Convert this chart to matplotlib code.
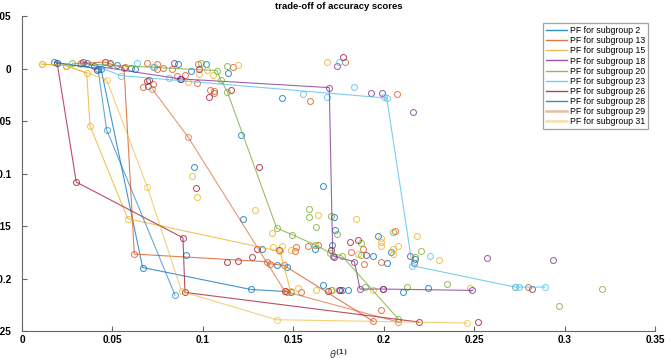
import matplotlib
matplotlib.use("Agg")
import matplotlib.pyplot as plt
from matplotlib.lines import Line2D

plt.rcParams['font.family'] = ['Liberation Sans', 'DejaVu Sans']

# ---- Pareto fronts (theta1, accuracy) ----
subgroups = [2, 13, 15, 18, 20, 23, 26, 28, 29, 31]
colors = ['#0072BD', '#D95319', '#EDB120', '#7E2F8E', '#77AC30',
          '#4DBEEE', '#A2142F', '#0072BD', '#D95319', '#EDB120']

pf_x_2 = [0.0179, 0.0437, 0.0667, 0.1265, 0.1485]
pf_y_2 = [0.0061, -0.0006, -0.1893, -0.2102, -0.2124]
pf_x_13 = [0.0326, 0.0459, 0.0564, 0.0621, 0.1353, 0.1371, 0.1449, 0.1943]
pf_y_13 = [0.0051, 0.0061, 0.0004, -0.1765, -0.1838, -0.1857, -0.1873, -0.2406]
pf_x_15 = [0.0109, 0.0242, 0.0358, 0.0376, 0.0585, 0.1427, 0.1485]
pf_y_15 = [0.0042, 0.0029, -0.0044, -0.0545, -0.1429, -0.1740, -0.2119]
pf_x_18 = [0.0339, 0.0398, 0.0874, 0.1699, 0.1718, 0.1838, 0.1869, 0.1995, 0.2490]
pf_y_18 = [0.0061, 0.0026, -0.0098, -0.0181, -0.1781, -0.1838, -0.2098, -0.2098, -0.2111]
pf_x_20 = [0.0278, 0.1077, 0.1099, 0.1135, 0.1408, 0.1495, 0.1620, 0.1703, 0.1768, 0.2081]
pf_y_20 = [0.0051, -0.0019, -0.0107, -0.0219, -0.1518, -0.1582, -0.1677, -0.1753, -0.1781, -0.2383]
pf_x_23 = [0.0431, 0.0546, 0.2017, 0.2158, 0.2726, 0.2750, 0.2892]
pf_y_23 = [0.0011, -0.0067, -0.0281, -0.1876, -0.2079, -0.2079, -0.2079]
pf_x_26 = [0.0194, 0.0300, 0.0890, 0.0901, 0.2195]
pf_y_26 = [0.0054, -0.1080, -0.1610, -0.2130, -0.2412]
pf_x_28 = [0.0192, 0.0420, 0.0468, 0.0846]
pf_y_28 = [0.0051, 0.0000, -0.0583, -0.2155]
pf_x_29 = [0.0721, 0.0920, 0.1454, 0.2081]
pf_y_29 = [-0.0196, -0.0656, -0.2121, -0.2412]
pf_x_31 = [0.0109, 0.0242, 0.0468, 0.0693, 0.0883, 0.1408, 0.2459]
pf_y_31 = [0.0042, 0.0029, -0.0107, -0.1128, -0.2121, -0.2390, -0.2421]

pf_x = [pf_x_2, pf_x_13, pf_x_15, pf_x_18, pf_x_20, pf_x_23, pf_x_26, pf_x_28, pf_x_29, pf_x_31]
pf_y = [pf_y_2, pf_y_13, pf_y_15, pf_y_18, pf_y_20, pf_y_23, pf_y_26, pf_y_28, pf_y_29, pf_y_31]

# ---- all candidate solutions (scatter) ----
sc_x_2 = [0.0358, 0.0527, 0.0601, 0.0625, 0.0695, 0.0864, 0.0933, 0.1018, 0.1138, 0.1209,
          0.0951, 0.1439, 0.1224, 0.1663, 0.1727, 0.1731, 0.0905, 0.1329, 0.1408, 0.1467,
          0.1620, 0.1713, 0.1666, 0.1967, 0.1943, 0.2020, 0.2039, 0.2173, 0.1771, 0.1804,
          0.2109, 0.2244]
sc_y_2 = [0.0051, 0.0035, 0.0004, -0.0006, -0.0162, 0.0042, -0.0019, 0.0042, -0.0044, -0.0631,
          -0.0932, -0.0281, -0.1432, -0.1122, -0.1417, -0.1534, -0.1772, -0.1718, -0.1873, -0.1886,
          -0.1718, -0.1677, -0.2057, -0.1598, -0.1781, -0.1851, -0.1746, -0.1813, -0.2105, -0.2111,
          -0.2126, -0.2088]
sc_x_13 = [0.0459, 0.0570, 0.0690, 0.0745, 0.0745, 0.0778, 0.0830, 0.0855, 0.0901, 0.0966,
           0.0975, 0.0667, 0.0726, 0.1040, 0.1063, 0.1063, 0.1165, 0.1593, 0.1786, 0.2072,
           0.1818, 0.1887, 0.2064, 0.1984, 0.1893, 0.1514, 0.1510, 0.1583, 0.1635, 0.1464,
           0.1541, 0.1984, 0.2800]
sc_y_13 = [0.0061, 0.0010, 0.0051, 0.0042, -0.0006, 0.0004, -0.0003, -0.0069, -0.0060, -0.0139,
           0.0042, -0.0171, -0.0146, -0.0203, -0.0209, -0.0234, 0.0019, -0.0304, 0.0061, -0.0241,
           -0.1750, -0.1718, -0.1550, -0.1845, -0.1860, -0.1702, -0.1734, -0.1686, -0.1683, -0.2130,
           -0.2126, -0.2301, -0.2079]
sc_x_15 = [0.0242, 0.0321, 0.0920, 0.0980, 0.1025, 0.1058, 0.1196, 0.1685, 0.0942, 0.0969,
           0.1288, 0.1381, 0.1639, 0.1390, 0.1436, 0.1488, 0.1528, 0.1626, 0.1713, 0.1845,
           0.1984, 0.1984, 0.1984, 0.2050, 0.2078, 0.2053, 0.1860, 0.2186, 0.2306, 0.1943,
           0.2477, 0.2726]
sc_y_15 = [0.0029, 0.0042, -0.0124, -0.0050, -0.0012, -0.0060, 0.0035, 0.0061, -0.1018, -0.1223,
           -0.1350, -0.1560, -0.1391, -0.1699, -0.1686, -0.1731, -0.2088, -0.2111, -0.2111, -0.1432,
           -0.1613, -0.1655, -0.1693, -0.1718, -0.1686, -0.1765, -0.1765, -0.1591, -0.1822, -0.2105,
           -0.2088, -0.2079]
sc_x_18 = [0.0487, 0.0841, 0.1744, 0.1930, 0.1991, 0.2164, 0.1725, 0.1753, 0.1902, 0.2146,
           0.2168, 0.2573, 0.2938, 0.2819]
sc_y_18 = [0.0051, 0.0051, 0.0026, -0.0234, -0.0228, -0.0412, -0.1794, -0.2111, -0.1778, -0.1788,
           -0.1851, -0.1803, -0.1819, -0.2098]
sc_x_20 = [0.0487, 0.0730, 0.0988, 0.1132, 0.1589, 0.1589, 0.1626, 0.1709, 0.1744, 0.1709,
           0.1873, 0.2053, 0.1873, 0.2205, 0.2173, 0.1897, 0.2127, 0.2352, 0.2968, 0.3206]
sc_y_20 = [0.0045, 0.0019, 0.0057, 0.0029, -0.1337, -0.1415, -0.1508, -0.1407, -0.1572, -0.2111,
           -0.1660, -0.1556, -0.1772, -0.1734, -0.1794, -0.2083, -0.2083, -0.2050, -0.2263, -0.2098]
sc_x_23 = [0.0634, 0.0726, 0.0813, 0.1556, 0.1688, 0.1753, 0.1838, 0.2004, 0.2256]
sc_y_23 = [0.0051, 0.0019, -0.0091, -0.0243, -0.0272, 0.0067, -0.0171, -0.0266, -0.1781]
sc_x_26 = [0.0413, 0.0690, 0.0702, 0.0879, 0.0979, 0.1034, 0.1156, 0.1311, 0.0962, 0.1132,
           0.1193, 0.1274, 0.1298, 0.1423, 0.1454, 0.1707, 0.1694, 0.1759, 0.1814, 0.1860,
           0.1777, 0.1995, 0.2520]
sc_y_26 = [-0.0012, -0.0114, -0.0107, -0.0098, -0.0003, -0.0266, -0.0205, -0.0935, -0.1137, -0.1845,
           -0.1835, -0.1797, -0.1715, -0.1724, -0.2114, -0.1724, -0.2121, -0.2111, -0.1655, -0.1636,
           0.0108, -0.2098, -0.2412]

sc_x = [sc_x_2, sc_x_13, sc_x_15, sc_x_18, sc_x_20, sc_x_23, sc_x_26]
sc_y = [sc_y_2, sc_y_13, sc_y_15, sc_y_18, sc_y_20, sc_y_23, sc_y_26]

xticks = [0, 0.05, 0.1, 0.15, 0.2, 0.25, 0.3, 0.35]
xticklabels = ['0', '0.05', '0.1', '0.15', '0.2', '0.25', '0.3', '0.35']
yticks = [0.05, 0, -0.05, -0.1, -0.15, -0.2, -0.25]
yticklabels = ['0.05', '0', '-0.05', '-0.1', '-0.15', '-0.2', '-0.25']

W, H = 671, 358
fig = plt.figure(figsize=(W / 100, H / 100), dpi=100)
ax = fig.add_axes([22 / W, (H - 331.3) / H, 633 / W, (331.3 - 16) / H])

for i in range(len(sc_x)):
    ax.plot(sc_x[i], sc_y[i], linestyle='none', marker='o', markersize=4.3,
            markerfacecolor='none', markeredgecolor=colors[i], markeredgewidth=0.75,
            alpha=0.75)

handles = []
for i, sg in enumerate(subgroups):
    a = 0.75 if i < 7 else 0.6
    ax.plot(pf_x[i], pf_y[i], color=colors[i], linewidth=0.8, marker='o', markersize=4.3,
            markerfacecolor='none', markeredgewidth=0.75, alpha=a)
    thick = sg in (29, 31)
    handles.append(Line2D([], [], color=colors[i],
                          linewidth=1.8 if thick else 1.0,
                          alpha=0.4 if thick else 0.8,
                          label=f'PF for subgroup {sg}'))

ax.set_xlim(0, 0.35)
ax.set_ylim(-0.25, 0.05)
ax.set_xticks(xticks)
ax.set_xticklabels(xticklabels)
ax.set_yticks(yticks)
ax.set_yticklabels(yticklabels)
for sp in ['top', 'right']:
    ax.spines[sp].set_visible(False)
for sp in ['left', 'bottom']:
    ax.spines[sp].set_color('#666666')
    ax.spines[sp].set_linewidth(0.8)
ax.tick_params(direction='in', length=3.5, width=0.8, color='#666666', labelsize=7.2)
for lab in ax.get_xticklabels() + ax.get_yticklabels():
    lab.set_fontweight('bold')
ax.tick_params(axis='x', pad=3)
ax.tick_params(axis='y', pad=7.5)

ax.set_title('trade-off of accuracy scores', fontsize=6.8, fontweight='bold', pad=5)
ax.set_xlabel(r'$\theta^{\mathbf{(1)}}$', fontsize=7, color='#444444', labelpad=1)

leg = ax.legend(handles=handles, loc='upper right', bbox_to_anchor=(648 / W, 1 - 23.3 / H),
                bbox_transform=fig.transFigure, fontsize=6.3, frameon=True,
                fancybox=False, edgecolor='#888888', handlelength=2.4,
                handletextpad=0.3, labelspacing=0.12, borderpad=0.35,
                borderaxespad=0)
leg.get_frame().set_linewidth(0.9)

fig.savefig('out.png', dpi=100)
